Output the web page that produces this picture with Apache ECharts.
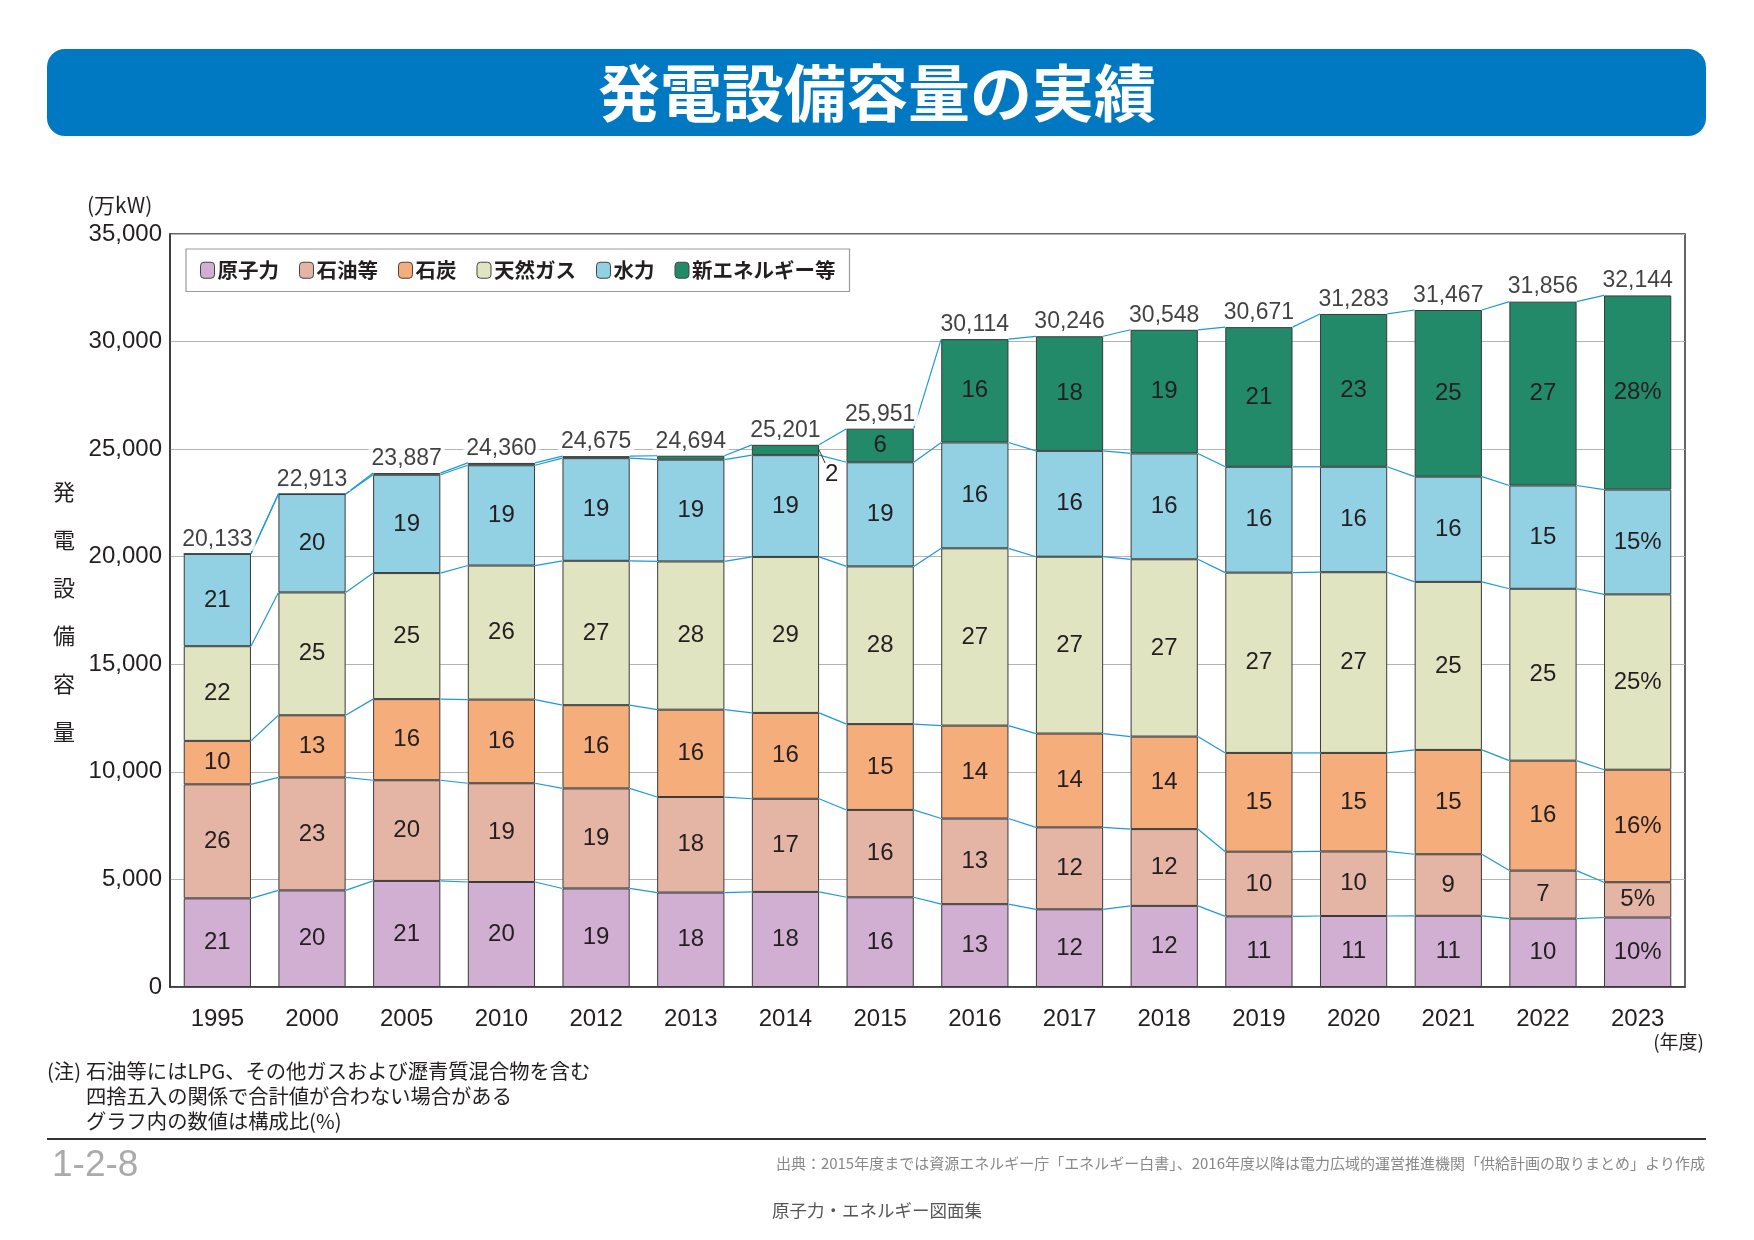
<!DOCTYPE html>
<html>
<head>
    <meta charset="utf-8">
    <title>発電設備容量の実績</title>
    <script src="https://cdn.jsdelivr.net/npm/echarts@6/dist/echarts.min.js"></script>
</head>
<body>
<style>
    html, body { margin: 0; padding: 0; background: #fff; }
    #main { width: 1754px; height: 1240px; }
</style>
<div id="main"></div>

<script type="text/javascript">
// 年度
var years = ['1995', '2000', '2005', '2010', '2012', '2013', '2014', '2015',
             '2016', '2017', '2018', '2019', '2020', '2021', '2022', '2023'];
// 合計（万kW）
var totals = [20133, 22913, 23887, 24360, 24675, 24694, 25201, 25951,
              30114, 30246, 30548, 30671, 31283, 31467, 31856, 32144];

// 電源別の設備容量（万kW）… グラフから読み取り
var nuclear   = [4120, 4490, 4930, 4880, 4580, 4390, 4420, 4170, 3850, 3610, 3770, 3280, 3300, 3310, 3180, 3230];
var oil       = [5300, 5250, 4680, 4590, 4650, 4440, 4330, 4060, 3980, 3810, 3570, 3010, 3000, 2860, 2230, 1640];
var coal      = [2020, 2890, 3770, 3890, 3870, 4060, 3990, 3990, 4320, 4360, 4300, 4590, 4580, 4850, 5110, 5230];
var gas       = [4400, 5710, 5860, 6230, 6710, 6890, 7250, 7330, 8240, 8220, 8240, 8380, 8400, 7810, 7990, 8150];
var hydro     = [4293, 4573, 4570, 4660, 4770, 4730, 4730, 4840, 4920, 4920, 4920, 4920, 4900, 4890, 4800, 4870];
var newEnergy = [0, 0, 77, 110, 95, 184, 481, 1561, 4804, 5326, 5748, 6491, 7103, 7747, 8546, 9024];

// 構成比（%）… グラフ内の表示値
var nuclearPct = [21, 20, 21, 20, 19, 18, 18, 16, 13, 12, 12, 11, 11, 11, 10, 10];
var oilPct     = [26, 23, 20, 19, 19, 18, 17, 16, 13, 12, 12, 10, 10, 9, 7, 5];
var coalPct    = [10, 13, 16, 16, 16, 16, 16, 15, 14, 14, 14, 15, 15, 15, 16, 16];
var gasPct     = [22, 25, 25, 26, 27, 28, 29, 28, 27, 27, 27, 27, 27, 25, 25, 25];
var hydroPct   = [21, 20, 19, 19, 19, 19, 19, 19, 16, 16, 16, 16, 16, 16, 15, 15];
var newPct     = [null, null, null, null, null, null, 2, 6, 16, 18, 19, 21, 23, 25, 27, 28];

var yTicks = [0, 5000, 10000, 15000, 20000, 25000, 30000, 35000];

var names  = ['原子力', '石油等', '石炭', '天然ガス', '水力', '新エネルギー等'];
var colors = ['#d1afd3', '#e4b5a5', '#f4ad7b', '#e1e4c1', '#91d1e3', '#238a69'];
var values = [nuclear, oil, coal, gas, hydro, newEnergy];
var pcts   = [nuclearPct, oilPct, coalPct, gasPct, hydroPct, newPct];

var BAR_RATIO = 0.71;
var NUM_FONT = 'Liberation Sans, Arial, sans-serif';
var JP_FONT = '"Noto Sans CJK JP", sans-serif';

// 積み上げの境界値（系列線用）
var levels = [];
(function () {
    var run = years.map(function () { return 0; });
    values.forEach(function (arr) {
        run = run.map(function (v, i) { return v + arr[i]; });
        levels.push(run.slice());
    });
})();

var myChart = echarts.init(document.getElementById('main'));

var series = values.map(function (arr, k) {
    return {
        name: names[k],
        type: 'bar',
        stack: 'total',
        barWidth: (BAR_RATIO * 100) + '%',
        itemStyle: { color: colors[k], borderColor: '#3a3a3a', borderWidth: 1 },
        label: {
            show: true,
            position: 'inside',
            color: '#231f20',
            fontFamily: NUM_FONT,
            fontSize: 24,
            formatter: function (p) {
                var v = pcts[k][p.dataIndex];
                if (v == null) return '';
                return p.dataIndex === years.length - 1 ? v + '%' : String(v);
            }
        },
        emphasis: { disabled: true },
        data: arr.map(function (v, i) {
            if (k === 5 && i === 6) {
                // 2014年度の新エネルギー等は棒の外側に表示
                return { value: v, label: { position: 'right', distance: 6, offset: [0, 24] } };
            }
            return v;
        }),
        z: 3
    };
});

// 棒と棒を結ぶ系列線
series.push({
    type: 'custom',
    name: 'lines',
    silent: true,
    z: 4,
    data: years.slice(0, -1).map(function (y, i) { return [i, 0]; }),
    encode: { x: 0, y: 1 },
    renderItem: function (params, api) {
        var i = api.value(0);
        var half = api.size([1, 0])[0] * BAR_RATIO / 2;
        var children = levels.map(function (lv) {
            var p1 = api.coord([i, lv[i]]);
            var p2 = api.coord([i + 1, lv[i + 1]]);
            return {
                type: 'line',
                shape: { x1: p1[0] + half, y1: p1[1], x2: p2[0] - half, y2: p2[1] },
                style: { stroke: '#1c9ad6', lineWidth: 1.2 }
            };
        });
        return { type: 'group', children: children };
    }
});

// 2014年度「2」の引き出し線
series.push({
    type: 'custom',
    name: 'leader',
    silent: true,
    z: 4,
    data: [[6, levels[4][6] + newEnergy[6] / 2]],
    encode: { x: 0, y: 1 },
    renderItem: function (params, api) {
        var half = api.size([1, 0])[0] * BAR_RATIO / 2;
        var p = api.coord([api.value(0), api.value(1)]);
        return {
            type: 'line',
            shape: { x1: p[0] + half, y1: p[1], x2: p[0] + half + 6, y2: p[1] + 13 },
            style: { stroke: '#333', lineWidth: 1 }
        };
    }
});

// 合計値ラベル
series.push({
    type: 'scatter',
    name: 'total',
    silent: true,
    symbolSize: 0,
    z: 5,
    data: totals.map(function (t, i) { return [i, t]; }),
    label: {
        show: true,
        position: 'top',
        distance: 3,
        color: '#111',
        fontFamily: NUM_FONT,
        fontSize: 23,
        backgroundColor: '#fff',
        padding: [0, 3, 0, 3],
        formatter: function (p) { return p.value[1].toLocaleString('en-US'); }
    }
});

var noteStyle = { fontFamily: JP_FONT, fontSize: 20.3, fill: '#231f20' };

myChart.setOption({
    animation: false,
    backgroundColor: '#fff',
    textStyle: { fontFamily: JP_FONT },
    grid: {
        left: 170, right: 69, top: 234, bottom: 253,
        show: true, borderColor: '#333', borderWidth: 1.5, backgroundColor: 'transparent'
    },
    legend: {
        data: names,
        left: 186, top: 249,
        orient: 'horizontal',
        backgroundColor: '#fff',
        borderColor: '#999',
        borderWidth: 1.2,
        padding: [11, 14, 11, 14],
        itemWidth: 14, itemHeight: 16,
        itemGap: 20,
        itemStyle: { borderColor: '#444', borderWidth: 1 },
        textStyle: { fontFamily: JP_FONT, fontSize: 20.5, fontWeight: 'bold', color: '#231f20', padding: [0, 0, 0, -2] },
        selectedMode: false,
        z: 10
    },
    xAxis: {
        type: 'category',
        data: years,
        axisLine: { lineStyle: { color: '#333', width: 1.5 } },
        axisTick: { show: false },
        axisLabel: { margin: 20, fontFamily: NUM_FONT, fontSize: 24, color: '#231f20' }
    },
    yAxis: {
        type: 'value',
        min: yTicks[0],
        max: yTicks[yTicks.length - 1],
        interval: yTicks[1] - yTicks[0],
        axisLine: { show: true, lineStyle: { color: '#333', width: 1.5 } },
        axisTick: { show: false },
        splitLine: { lineStyle: { color: '#b4b4b4', width: 1.2 } },
        axisLabel: {
            margin: 8, fontFamily: NUM_FONT, fontSize: 24, color: '#231f20',
            formatter: function (v) { return v.toLocaleString('en-US'); }
        }
    },
    graphic: [
        {
            type: 'rect', left: 47, top: 49, z: 1,
            shape: { width: 1659, height: 87, r: 18 },
            style: { fill: '#0079c2' }
        },
        {
            type: 'text', x: 877, y: 93, z: 2,
            style: {
                text: '発電設備容量の実績', fill: '#fff', fontFamily: JP_FONT,
                fontSize: 62, fontWeight: 'bold', align: 'center', verticalAlign: 'middle'
            }
        },
        {
            type: 'text', x: 87, y: 205,
            style: { text: '(万kW)', fill: '#231f20', fontFamily: JP_FONT, fontSize: 21, verticalAlign: 'middle' }
        },
        {
            type: 'text', x: 64, y: 612,
            style: {
                text: '発\n電\n設\n備\n容\n量', fill: '#231f20', fontFamily: JP_FONT, fontSize: 22,
                lineHeight: 48, align: 'center', verticalAlign: 'middle'
            }
        },
        {
            type: 'text', x: 1704, y: 1042,
            style: { text: '(年度)', fill: '#231f20', fontFamily: JP_FONT, fontSize: 19, align: 'right', verticalAlign: 'middle' }
        },
        {
            type: 'text', x: 47, y: 1071,
            style: Object.assign({ text: '(注)', verticalAlign: 'middle' }, noteStyle)
        },
        {
            type: 'text', x: 86, y: 1071,
            style: Object.assign({ text: '石油等にはLPG、その他ガスおよび瀝青質混合物を含む', verticalAlign: 'middle' }, noteStyle)
        },
        {
            type: 'text', x: 86, y: 1096,
            style: Object.assign({ text: '四捨五入の関係で合計値が合わない場合がある', verticalAlign: 'middle' }, noteStyle)
        },
        {
            type: 'text', x: 86, y: 1121,
            style: Object.assign({ text: 'グラフ内の数値は構成比(%)', verticalAlign: 'middle' }, noteStyle)
        },
        {
            type: 'rect', left: 47, top: 1138,
            shape: { width: 1659, height: 2 },
            style: { fill: '#333' }
        },
        {
            type: 'text', x: 52, y: 1166,
            style: { text: '1-2-8', fill: '#aaa', fontFamily: NUM_FONT, fontSize: 37, verticalAlign: 'middle' }
        },
        {
            type: 'text', x: 1705, y: 1163,
            style: {
                text: '出典：2015年度までは資源エネルギー庁「エネルギー白書」、2016年度以降は電力広域的運営推進機関「供給計画の取りまとめ」より作成',
                fill: '#888', fontFamily: JP_FONT, fontSize: 15, align: 'right', verticalAlign: 'middle'
            }
        },
        {
            type: 'text', x: 877, y: 1210,
            style: {
                text: '原子力・エネルギー図面集', fill: '#555', fontFamily: JP_FONT, fontSize: 17.5,
                align: 'center', verticalAlign: 'middle'
            }
        }
    ],
    series: series
});

window.onresize = function () {
    myChart.resize();
};
</script>
</body>
</html>
